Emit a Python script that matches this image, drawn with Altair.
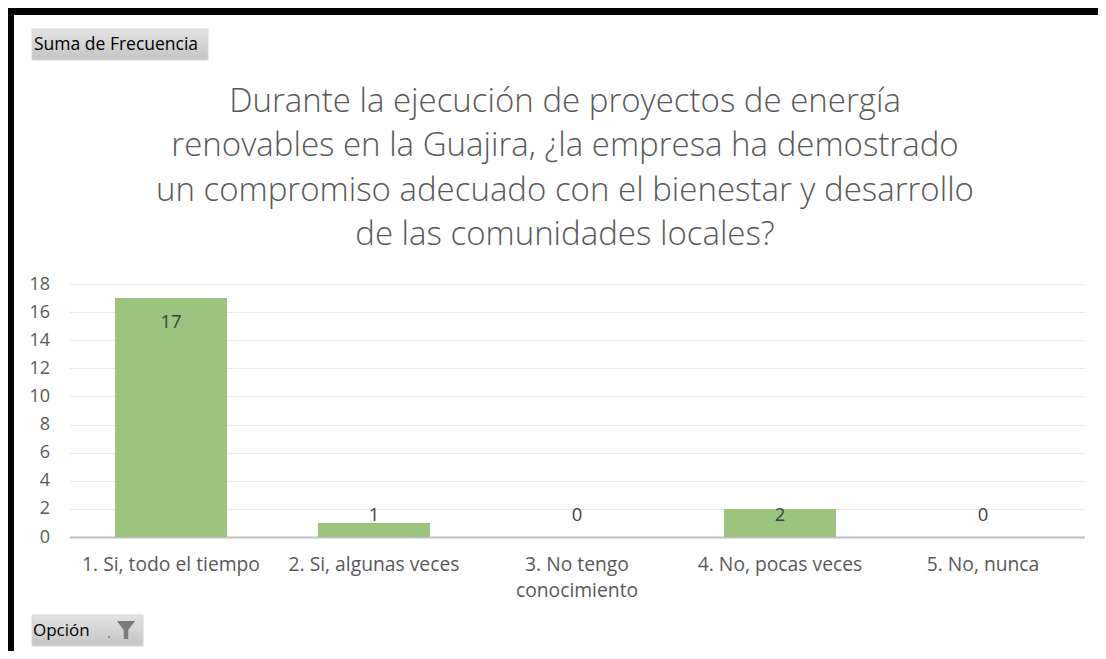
import altair as alt
import pandas as pd

categories = ["1. Si, todo el tiempo", "2. Si, algunas veces", "3. No tengo conocimiento",
              "4. No, pocas veces", "5. No, nunca"]
values = [17, 1, 0, 2, 0]
y_ticks = list(range(0, 19, 2))
title_lines = ["Durante la ejecución de proyectos de energía",
               "renovables en la Guajira, ¿la empresa ha demostrado",
               "un compromiso adecuado con el bienestar y desarrollo",
               "de las comunidades locales?"]

df = pd.DataFrame({"Opción": categories, "Frecuencia": values})

FONT = "Open Sans"
TXT = "#595959"
W, H = 1015, 253
PL, PT = 61.5, 276

x_axis = alt.Axis(title=None, labelAngle=0, ticks=False, domain=True,
                  domainColor="#bfbfbf", domainWidth=2, grid=False,
                  labelFont=FONT, labelFontSize=19.3, labelColor=TXT,
                  labelPadding=18, labelLimit=0, labelLineHeight=26,
                  labelOverlap=False,
                  labelExpr="datum.label == '3. No tengo conocimiento' ? ['3. No tengo', 'conocimiento'] : datum.label")
y_axis = alt.Axis(title=None, values=y_ticks, ticks=False, domain=False,
                  grid=True, gridColor="#e9e9e9", gridWidth=1,
                  labelFont=FONT, labelFontSize=18, labelColor=TXT,
                  labelPadding=20, labelOverlap=False)
x_scale = alt.Scale(paddingInner=0.448, paddingOuter=0.224)
y_scale = alt.Scale(domain=[0, 18], nice=False)

base = alt.Chart(df)
bars = base.mark_bar(color="#9cc47e").encode(
    x=alt.X("Opción:N", sort=categories, scale=x_scale, axis=x_axis),
    y=alt.Y("Frecuencia:Q", scale=y_scale, axis=y_axis))
labels = base.transform_calculate(
    Frecuencia_pos="max(datum.Frecuencia - 1.7, 1.56)"
).mark_text(font=FONT, fontSize=18.5, color="#404040", baseline="middle").encode(
    x=alt.X("Opción:N", sort=categories, scale=x_scale, axis=x_axis),
    y=alt.Y("Frecuencia_pos:Q", scale=y_scale, axis=y_axis),
    text="Frecuencia:Q")

one = alt.Data(values=[{"a": 1}])
grad = alt.Gradient(gradient="linear", x1=0, y1=0, x2=0, y2=1,
                    stops=[alt.GradientStop(color="#e3e3e3", offset=0),
                           alt.GradientStop(color="#c4c4c4", offset=1)])

def px(v):
    return alt.value(v)

title = alt.Chart(one).mark_text(
    text=title_lines, font=FONT, fontSize=33, fontWeight=300, color=TXT,
    lineHeight=44.3, align="center", baseline="alphabetic").encode(
    x=px(565 - 8 - PL), y=px(112 - 8 - PT))

# black frame (top and left)
frame_top = alt.Chart(one).mark_rect(color="black").encode(
    x=px(8 - 8 - PL), x2=px(W + 13.5 + 100), y=px(8 - 8 - PT), y2=px(15 - 8 - PT))
frame_left = alt.Chart(one).mark_rect(color="black").encode(
    x=px(8 - 8 - PL), x2=px(14 - 8 - PL), y=px(8 - 8 - PT), y2=px(H + 200))

# pivot field buttons
btn1 = alt.Chart(one).mark_rect(fill=grad, stroke="#d6d6d6", strokeWidth=1).encode(
    x=px(32 - 8 - PL), x2=px(208 - 8 - PL), y=px(29 - 8 - PT), y2=px(60 - 8 - PT))
btn1_t = alt.Chart(one).mark_text(text="Suma de Frecuencia", font=FONT, fontSize=17.5,
                                  color="#000000", align="left", baseline="middle").encode(
    x=px(34 - 8 - PL), y=px(45 - 8 - PT))
btn2 = alt.Chart(one).mark_rect(fill=grad, stroke="#d6d6d6", strokeWidth=1).encode(
    x=px(32 - 8 - PL), x2=px(143 - 8 - PL), y=px(615 - 8 - PT), y2=px(646 - 8 - PT))
btn2_t = alt.Chart(one).mark_text(text="Opción", font=FONT, fontSize=17,
                                  color="#000000", align="left", baseline="middle").encode(
    x=px(33 - 8 - PL), y=px(631 - 8 - PT))
btn2_dot = alt.Chart(one).mark_point(shape="square", filled=True, color="#404040", size=3).encode(
    x=px(109 - 8 - PL), y=px(637 - 8 - PT))
funnel = alt.Chart(one).mark_point(
    shape="M-1,-1L1,-1L0.25,0L0.25,1L-0.25,1L-0.25,0Z", filled=True,
    color="#7a7a7a", size=330, opacity=1).encode(
    x=px(126 - 8 - PL), y=px(630 - 8 - PT))

chart = alt.layer(bars, labels, title, frame_top, frame_left, btn1, btn1_t, btn2, btn2_t,
                  btn2_dot, funnel).properties(
    width=W, height=H,
    background="white",
    autosize=alt.AutoSizeParams(type="none"),
    padding={"left": PL, "top": PT, "right": 13.5, "bottom": 114},
).configure_view(stroke="transparent", strokeWidth=0)

chart.save("out.html", embed_options={"renderer": "svg", "actions": False})
